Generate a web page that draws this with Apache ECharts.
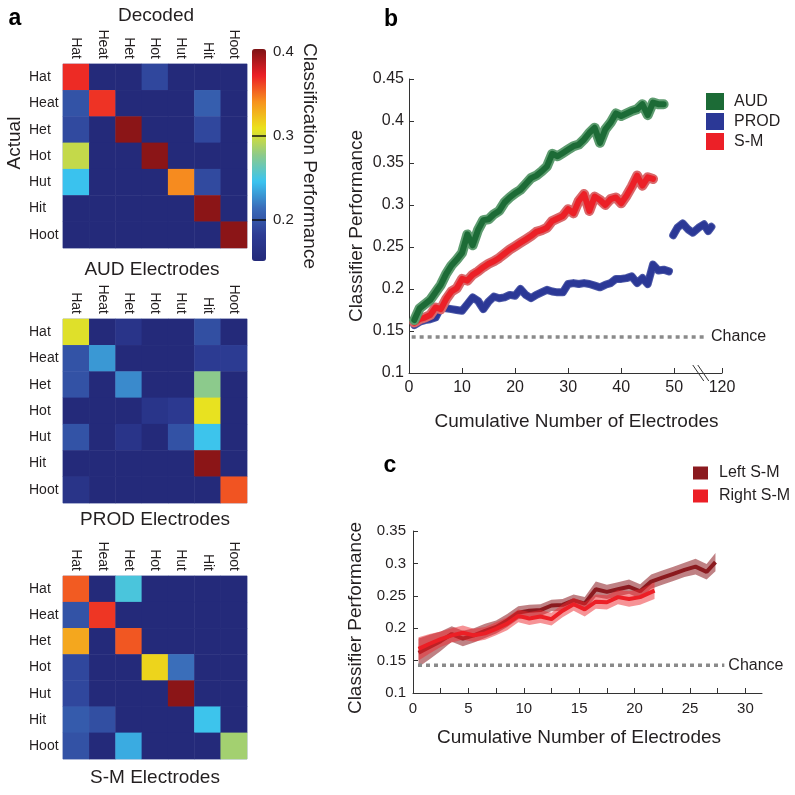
<!DOCTYPE html>
<html><head><meta charset="utf-8">
<script src="https://cdn.jsdelivr.net/npm/echarts@6/dist/echarts.min.js"></script>
<style>html,body{margin:0;padding:0;background:#fff}#c{width:795px;height:795px}</style>
</head><body><div id="c"></div>
<script>
// ---------- DATA ----------
const vowels = ['Hat','Heat','Het','Hot','Hut','Hit','Hoot'];
// rows = actual, columns = decoded
const audMatrix = [
  [0.369,0.150,0.150,0.190,0.150,0.150,0.150],
  [0.198,0.367,0.150,0.150,0.150,0.205,0.150],
  [0.192,0.150,0.400,0.150,0.150,0.190,0.150],
  [0.296,0.150,0.150,0.400,0.150,0.150,0.150],
  [0.245,0.150,0.150,0.150,0.343,0.192,0.150],
  [0.150,0.150,0.150,0.150,0.150,0.400,0.150],
  [0.150,0.150,0.150,0.150,0.150,0.150,0.400]
];
const prodMatrix = [
  [0.305,0.150,0.169,0.150,0.150,0.195,0.150],
  [0.198,0.230,0.150,0.150,0.150,0.180,0.180],
  [0.197,0.150,0.225,0.150,0.150,0.277,0.150],
  [0.150,0.150,0.150,0.170,0.178,0.308,0.150],
  [0.198,0.150,0.169,0.150,0.197,0.247,0.150],
  [0.150,0.150,0.150,0.150,0.150,0.400,0.150],
  [0.168,0.150,0.150,0.150,0.150,0.150,0.358]
];
const smMatrix = [
  [0.356,0.150,0.252,0.150,0.150,0.150,0.150],
  [0.198,0.366,0.150,0.150,0.150,0.150,0.150],
  [0.333,0.150,0.357,0.150,0.150,0.150,0.150],
  [0.190,0.150,0.150,0.315,0.215,0.150,0.150],
  [0.190,0.150,0.150,0.150,0.400,0.150,0.150],
  [0.203,0.195,0.150,0.150,0.150,0.247,0.150],
  [0.197,0.150,0.237,0.150,0.150,0.150,0.285]
];
const colorbarRange = [0.151, 0.404];
const colorbarLabels = [0.2, 0.3, 0.4];
const colorbarTickLines = [0.2, 0.3];

// panel b
const bElectrodes = [1,2,3,4,5,6,7,8,9,10,11,12,13,14,15,16,17,18,19,20,21,22,23,24,25,26,27,28,29,30,31,32,33,34,35,36,37,38,39,40,41,42,43,44,45,46,47,48,49];
const audPerf = [0.163,0.177,0.182,0.187,0.196,0.205,0.218,0.228,0.235,0.243,0.265,0.252,0.270,0.282,0.283,0.289,0.293,0.303,0.309,0.314,0.318,0.325,0.332,0.335,0.340,0.346,0.361,0.358,0.362,0.366,0.370,0.372,0.378,0.386,0.392,0.374,0.390,0.398,0.409,0.406,0.409,0.412,0.414,0.420,0.407,0.422,0.420,0.420];
const prodPerf = [0.157,0.161,0.163,0.164,0.166,0.178,0.177,0.176,0.175,0.174,0.182,0.190,0.186,0.176,0.185,0.191,0.189,0.190,0.193,0.192,0.200,0.193,0.189,0.193,0.196,0.199,0.197,0.196,0.196,0.206,0.207,0.206,0.207,0.206,0.204,0.202,0.205,0.207,0.212,0.212,0.213,0.215,0.207,0.213,0.206,0.229,0.222,0.223,0.221];
const smPerf = [0.160,0.164,0.166,0.169,0.178,0.176,0.188,0.197,0.201,0.212,0.210,0.217,0.221,0.226,0.230,0.233,0.237,0.242,0.247,0.251,0.255,0.259,0.263,0.268,0.270,0.273,0.281,0.284,0.287,0.295,0.290,0.305,0.313,0.293,0.310,0.306,0.300,0.307,0.309,0.302,0.311,0.322,0.335,0.323,0.333,0.331];
// PROD tail after the axis break (x in broken-axis units)
const prodTailX = [49.8,50.6,51.6,52.6,53.5,54.6,55.6,56.4,57.0];
const prodTailPerf = [0.264,0.273,0.278,0.271,0.267,0.273,0.277,0.269,0.274];
const bTickValues = [0,10,20,30,40,50,59];
const bTickLabels = ['0','10','20','30','40','50','120'];
const chanceLevel = 0.143;
const bChanceX = [0.5, 55.8];

// panel c
const cLeftX = [0.5,1.5,2.5,3.5,4.5,5.5,6.5,7.5,8.5,9.5,10.5,11.5,12.5,13.5,14.5,15.5,16.5,17.5,18.5,19.5,20.5,21.5,22.5,23.5,24.5,25.5,26.5,27.3];
const leftPerf = [0.162,0.171,0.180,0.191,0.184,0.189,0.196,0.202,0.212,0.224,0.227,0.228,0.235,0.236,0.243,0.238,0.260,0.256,0.260,0.264,0.257,0.272,0.278,0.284,0.290,0.295,0.287,0.302];
const leftSE = [0.022,0.019,0.015,0.012,0.012,0.011,0.011,0.010,0.010,0.010,0.009,0.009,0.009,0.009,0.009,0.010,0.012,0.011,0.011,0.011,0.011,0.011,0.011,0.011,0.011,0.012,0.012,0.014];
const cRightX = [0.5,1.5,2.5,3.5,4.5,5.5,6.5,7.5,8.5,9.5,10.5,11.5,12.5,13.5,14.5,15.5,16.5,17.5,18.5,19.5,20.5,21.8];
const rightPerf = [0.168,0.176,0.183,0.189,0.193,0.189,0.192,0.199,0.207,0.219,0.215,0.218,0.214,0.227,0.237,0.229,0.241,0.240,0.248,0.245,0.248,0.258];
const rightSE = [0.018,0.015,0.012,0.011,0.011,0.010,0.010,0.010,0.010,0.010,0.010,0.010,0.010,0.010,0.010,0.011,0.011,0.011,0.011,0.012,0.012,0.013];
const cTickValues = [0,2.5,5,7.5,10,12.5,15,17.5,20,22.5,25,27.5,30];
const cLabelValues = [0,5,10,15,20,25,30];
const cChanceX = [0.45, 28.1];

// ---------- STYLE ----------
const FONT = '"Liberation Sans", Arial, Helvetica, sans-serif';
const TXT = '#231f20';
const hmColors = ['#242a7a','#2d3c94','#3a6cb9','#3ac4f0','#8dca8a','#ebe31c','#f7931e','#ec1f26','#7d1315'];

function cells(m){ const out=[]; m.forEach((row,r)=>row.forEach((v,c)=>out.push([c,r,v]))); return out; }
function zip(xs, ys){ return ys.map((y,i)=>[xs[i], y]); }

const hmGrids = [
  {left:63, top:64, width:184, height:184},
  {left:63, top:319, width:184, height:184},
  {left:63, top:576, width:184, height:183}
];
const grids = hmGrids.map(g => Object.assign({show:true, borderColor:'#a8b3d3', borderWidth:1, backgroundColor:'transparent'}, g));
grids.push({left:409, top:79, width:313, height:294});   // 3: b
grids.push({left:413, top:531, width:349, height:162});  // 4: c
grids.push({left:252, top:49, width:14, height:212});    // 5: colorbar axis

const xAxes = [], yAxes = [];
for (let i=0;i<3;i++){
  xAxes.push({gridIndex:i, type:'category', data:vowels, position:'top',
    axisLine:{show:false}, axisTick:{show:false}, splitLine:{show:false},
    axisLabel:{rotate:90, margin:5, fontSize:14, fontFamily:FONT, color:TXT}});
  yAxes.push({gridIndex:i, type:'category', data:vowels, inverse:true,
    axisLine:{show:false}, axisTick:{show:false}, splitLine:{show:false},
    axisLabel:{align:'left', margin:34, fontSize:14, fontFamily:FONT, color:TXT}});
}
const axLine = {show:true, lineStyle:{color:'#333', width:1}};
// b
xAxes.push({gridIndex:3, type:'value', min:0, max:59,
  axisLine:axLine, splitLine:{show:false},
  axisTick:{show:true, inside:true, length:5, customValues:bTickValues.slice(1), lineStyle:{color:'#333'}},
  axisLabel:{customValues:bTickValues, formatter:v=>bTickLabels[bTickValues.indexOf(v)], margin:7, fontSize:16, fontFamily:FONT, color:TXT},
  name:'Cumulative Number of Electrodes', nameLocation:'middle', nameGap:39,
  nameTextStyle:{fontSize:19, fontFamily:FONT, color:TXT, padding:[0,0,0,22]}});
yAxes.push({gridIndex:3, type:'value', min:0.1, max:0.45, interval:0.05,
  axisLine:axLine, splitLine:{show:false},
  axisTick:{show:true, inside:true, length:5, lineStyle:{color:'#333'}},
  axisLabel:{formatter:v=>String(parseFloat(v.toFixed(2))), margin:5, fontSize:16, fontFamily:FONT, color:TXT},
  name:'Classifier Performance', nameLocation:'middle', nameGap:43,
  nameTextStyle:{fontSize:19, fontFamily:FONT, color:TXT}});
// c
xAxes.push({gridIndex:4, type:'value', min:0, max:31.5,
  axisLine:axLine, splitLine:{show:false},
  axisTick:{show:true, inside:true, length:5, customValues:cTickValues.slice(1), lineStyle:{color:'#333'}},
  axisLabel:{customValues:cLabelValues, margin:8, fontSize:15, fontFamily:FONT, color:TXT},
  name:'Cumulative Number of Electrodes', nameLocation:'middle', nameGap:35,
  nameTextStyle:{fontSize:19, fontFamily:FONT, color:TXT, padding:[0,17,0,0]}});
yAxes.push({gridIndex:4, type:'value', min:0.1, max:0.35, interval:0.05,
  axisLine:axLine, splitLine:{show:false},
  axisTick:{show:true, inside:true, length:5, lineStyle:{color:'#333'}},
  axisLabel:{formatter:v=>String(parseFloat(v.toFixed(2))), margin:7, fontSize:15, fontFamily:FONT, color:TXT},
  name:'Classifier Performance', nameLocation:'middle', nameGap:48,
  nameTextStyle:{fontSize:19, fontFamily:FONT, color:TXT, padding:[0,12,0,0]}});
// colorbar axis (labels only; tick lines drawn as markLines above the bar)
xAxes.push({gridIndex:5, type:'value', show:false, min:0, max:1});
yAxes.push({gridIndex:5, type:'value', position:'right', min:colorbarRange[0], max:colorbarRange[1],
  axisLine:{show:false}, splitLine:{show:false}, axisTick:{show:false},
  axisLabel:{customValues:colorbarLabels, formatter:v=>v.toFixed(1), margin:7, fontSize:15, fontFamily:FONT, color:TXT}});

const series = [];
[audMatrix, prodMatrix, smMatrix].forEach((m,i)=>{
  series.push({type:'heatmap', xAxisIndex:i, yAxisIndex:i, data:cells(m), silent:true,
    itemStyle:{borderWidth:0}, emphasis:{disabled:true}});
});
// colorbar tick lines
series.push({name:'cbticks', type:'line', xAxisIndex:5, yAxisIndex:5, data:[], silent:true, z:10, zlevel:1,
  markLine:{silent:true, symbol:'none', label:{show:false}, animation:false,
    lineStyle:{color:'#111', width:1.5, type:'solid'},
    data:colorbarTickLines.map(v=>({yAxis:v}))}});

function bLine(name, xs, ys, color, width, z){
  return {name, type:'line', xAxisIndex:3, yAxisIndex:3, data:zip(xs, ys), symbol:'none', silent:true, z,
    itemStyle:{color}, lineStyle:{color, width, join:'round', cap:'round'}};
}
series.push(bLine('PROD band', bElectrodes, prodPerf, '#4a56a6', 8, 2));
series.push(bLine('PROD', bElectrodes, prodPerf, '#2b3896', 6, 3));
series.push(bLine('PROD tail band', prodTailX, prodTailPerf, '#4a56a6', 8, 2));
series.push(bLine('PROD tail', prodTailX, prodTailPerf, '#2b3896', 6, 3));
series.push(bLine('S-M band', bElectrodes, smPerf, '#d9686b', 10, 4));
series.push(bLine('S-M', bElectrodes, smPerf, '#ec2027', 6, 5));
series.push(bLine('AUD band', bElectrodes, audPerf, '#5e9c70', 10, 6));
series.push(bLine('AUD', bElectrodes, audPerf, '#1c6b36', 6, 7));
series.push({name:'Chance b', type:'line', xAxisIndex:3, yAxisIndex:3, data:zip(bChanceX, [chanceLevel, chanceLevel]),
  symbol:'none', silent:true, lineStyle:{color:'#8a8a8a', width:3.5, type:[4,4]},
  endLabel:{show:true, formatter:'Chance', distance:6, fontSize:16, fontFamily:FONT, color:TXT}});

// shaded error band: one polygon, corners mapped through the axis scales
function band(name, xs, mean, se, color, z){
  return {name, type:'custom', xAxisIndex:4, yAxisIndex:4, silent:true, z,
    data: xs.map((x,i)=>[x, mean[i]-se[i], mean[i]+se[i]]),
    encode:{x:0, y:[1,2]},
    renderItem:(params, api)=>{
      if (params.dataIndex !== 0) return null;
      const up = [], lo = [];
      for (let i=0;i<xs.length;i++){
        up.push(api.coord([xs[i], mean[i]+se[i]]));
        lo.push(api.coord([xs[i], mean[i]-se[i]]));
      }
      return {type:'polygon', shape:{points: up.concat(lo.reverse())}, style:{fill:color}};
    }};
}
series.push(band('Left band', cLeftX, leftPerf, leftSE, 'rgba(139,26,31,0.55)', 2));
series.push({name:'Left S-M', type:'line', xAxisIndex:4, yAxisIndex:4, data:zip(cLeftX, leftPerf), symbol:'none', silent:true, z:3,
  itemStyle:{color:'#8b1a1f'}, lineStyle:{color:'#8b1a1f', width:4}});
series.push(band('Right band', cRightX, rightPerf, rightSE, 'rgba(238,40,46,0.5)', 4));
series.push({name:'Right S-M', type:'line', xAxisIndex:4, yAxisIndex:4, data:zip(cRightX, rightPerf), symbol:'none', silent:true, z:5,
  itemStyle:{color:'#ec1f26'}, lineStyle:{color:'#ec1f26', width:4}});
series.push({name:'Chance c', type:'line', xAxisIndex:4, yAxisIndex:4, data:zip(cChanceX, [chanceLevel, chanceLevel]),
  symbol:'none', silent:true, lineStyle:{color:'#8a8a8a', width:3.5, type:[4,4]},
  endLabel:{show:true, formatter:'Chance', distance:4, fontSize:16, fontFamily:FONT, color:TXT}});

function txt(text, x, y, size, opts){
  return Object.assign({type:'text', x, y, silent:true,
    style:{text, fontSize:size, fontFamily:FONT, fill:TXT, align:'center', verticalAlign:'middle'}}, opts||{});
}
function letter(t, x, y){
  return {type:'text', x, y, silent:true, style:{text:t, fontSize:23, fontWeight:'bold', fontFamily:FONT, fill:'#000', align:'center', verticalAlign:'middle'}};
}
const graphics = [
  letter('a', 15, 19), letter('b', 391, 20), letter('c', 390, 466),
  txt('Decoded', 156, 16, 19),
  txt('Actual', 15, 143, 19, {rotation:Math.PI/2}),
  txt('AUD Electrodes', 152, 270, 19),
  txt('PROD Electrodes', 155, 520, 19),
  txt('S-M Electrodes', 155, 778, 19),
  txt('Classification Performance', 309, 156, 19, {rotation:-Math.PI/2})
];

const chart = echarts.init(document.getElementById('c'), null, {renderer:'canvas'});
chart.setOption({
  animation:false,
  backgroundColor:'#fff',
  grid:grids, xAxis:xAxes, yAxis:yAxes, series,
  visualMap:{type:'continuous', min:colorbarRange[0], max:colorbarRange[1], seriesIndex:[0,1,2],
    left:252, top:49, itemWidth:14, itemHeight:212, calculable:false, padding:0, text:null,
    inRange:{color:hmColors}, hoverLink:false},
  legend:[
    {data:['AUD','PROD','S-M'], orient:'vertical', left:706, top:93, itemWidth:18, itemHeight:17, itemGap:3, padding:0,
      icon:'rect', selectedMode:false, textStyle:{fontSize:16, fontFamily:FONT, color:TXT, padding:[0,0,0,5]}},
    {data:['Left S-M','Right S-M'], orient:'vertical', left:693, top:465, itemWidth:15, itemHeight:13, itemGap:7, padding:0,
      icon:'rect', selectedMode:false, textStyle:{fontSize:16, fontFamily:FONT, color:TXT, padding:[0,0,0,6]}}
  ],
  graphic:graphics
});
// axis break marks on panel b, placed through the axis scale
const p = chart.convertToPixel({gridIndex:3}, [55, 0.1]);
graphics.push(
  {type:'line', silent:true, shape:{x1:p[0]-8, y1:p[1]-8, x2:p[0]+3, y2:p[1]+8}, style:{stroke:'#333', lineWidth:1}},
  {type:'line', silent:true, shape:{x1:p[0]-3, y1:p[1]-8, x2:p[0]+8, y2:p[1]+8}, style:{stroke:'#333', lineWidth:1}}
);
chart.setOption({graphic:graphics});
</script></body></html>
